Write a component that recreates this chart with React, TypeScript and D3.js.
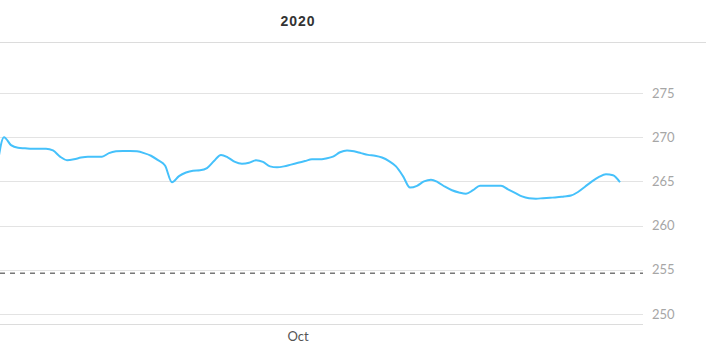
import React from "react";
import * as d3 from "d3";

const TITLE = "2020";
const START_DATE = "2020-08-19";
const VALUES: number[] = [
  266.5, 270.0, 269.1, 268.8, 268.75, 268.7, 268.7, 268.7, 268.5, 267.8,
  267.4, 267.5, 267.7, 267.8, 267.8, 267.8, 268.2, 268.4, 268.45, 268.45,
  268.4, 268.2, 267.9, 267.4, 266.8, 264.9, 265.6, 266.0, 266.2, 266.25,
  266.5, 267.3, 268.0, 267.7, 267.2, 267.0, 267.1, 267.4, 267.2, 266.7,
  266.6, 266.7, 266.9, 267.1, 267.3, 267.5, 267.5, 267.6, 267.8, 268.3,
  268.5, 268.4, 268.2, 268.0, 267.9, 267.7, 267.3, 266.7, 265.6, 264.3,
  264.5, 265.0, 265.2, 264.9, 264.4, 264.0, 263.75, 263.6, 264.0, 264.5,
  264.5, 264.5, 264.5, 264.1, 263.7, 263.3, 263.1, 263.05, 263.1, 263.15,
  263.2, 263.3, 263.4, 263.8, 264.4, 265.0, 265.5, 265.8, 265.7, 264.9,
];
const Y_TICKS = [250, 255, 260, 265, 270, 275];
const REFERENCE_VALUE = 254.6;
const X_TICK_DATES = ["2020-10-01"];
const X_TICK_LABELS = ["Oct"];

const W = 706;
const H = 350;
const PLOT_LEFT = 0;
const PLOT_RIGHT = 643;
const DAY_PX = 7;
const DAY_MS = 86400000;

function parseDay(s: string): Date {
  const [y, m, d] = s.split("-").map(Number);
  return new Date(Date.UTC(y, m - 1, d));
}

export default function App() {
  const start = parseDay(START_DATE);
  const data = VALUES.map((v, i) => ({ date: new Date(start.getTime() + i * DAY_MS), value: v }));
  // second point (Aug 20) sits at x≈4
  const domainStart = new Date(start.getTime() + DAY_MS - (4 / DAY_PX) * DAY_MS);
  const domainEnd = new Date(domainStart.getTime() + ((PLOT_RIGHT - PLOT_LEFT) / DAY_PX) * DAY_MS);
  const x = d3.scaleUtc().domain([domainStart, domainEnd]).range([PLOT_LEFT, PLOT_RIGHT]);
  const y = d3.scaleLinear().domain([250, 275]).range([314, 93]);

  const line = d3
    .line<{ date: Date; value: number }>()
    .x((d) => x(d.date))
    .y((d) => y(d.value))
    .curve(d3.curveMonotoneX);

  return (
    <svg
      width={W}
      height={H}
      style={{ position: "absolute", left: 0, top: 0, background: "#fff" }}
    >
      <defs>
        <clipPath id="plotclip">
          <rect x={PLOT_LEFT} y={42} width={PLOT_RIGHT - PLOT_LEFT} height={290} />
        </clipPath>
      </defs>
      <text
        x={298}
        y={26}
        textAnchor="middle"
        fontFamily="Liberation Sans, Arial, sans-serif"
        fontWeight="bold"
        fontSize={14}
        letterSpacing={1}
        fill="#333"
      >
        {TITLE}
      </text>
      <line x1={0} x2={W} y1={42.5} y2={42.5} stroke="#dcdcdc" strokeWidth={1} />
      {Y_TICKS.map((t) => (
        <g key={t}>
          <line
            x1={PLOT_LEFT}
            x2={PLOT_RIGHT}
            y1={Math.round(y(t)) + 0.5}
            y2={Math.round(y(t)) + 0.5}
            stroke="#e3e3e3"
            strokeWidth={1}
          />
          <text
            x={652}
            y={y(t)}
            dy="0.35em"
            fontFamily="Lato, sans-serif"
            fontSize={13}
            fill="#a6a6a6"
          >
            {t}
          </text>
        </g>
      ))}
      <line x1={PLOT_LEFT} x2={PLOT_RIGHT} y1={324.5} y2={324.5} stroke="#dcdcdc" strokeWidth={1} />
      {X_TICK_DATES.map((d, i) => (
        <text
          key={d}
          x={x(parseDay(d))}
          y={341}
          textAnchor="middle"
          fontFamily="Lato, sans-serif"
          fontSize={13}
          fill="#555"
        >
          {X_TICK_LABELS[i]}
        </text>
      ))}
      <line
        x1={PLOT_LEFT}
        x2={PLOT_RIGHT}
        y1={y(REFERENCE_VALUE)}
        y2={y(REFERENCE_VALUE)}
        stroke="#777"
        strokeWidth={1.5}
        strokeDasharray="5,5"
      />
      <path
        d={line(data) || ""}
        fill="none"
        stroke="#45c1fb"
        strokeWidth={2}
        clipPath="url(#plotclip)"
      />
    </svg>
  );
}
